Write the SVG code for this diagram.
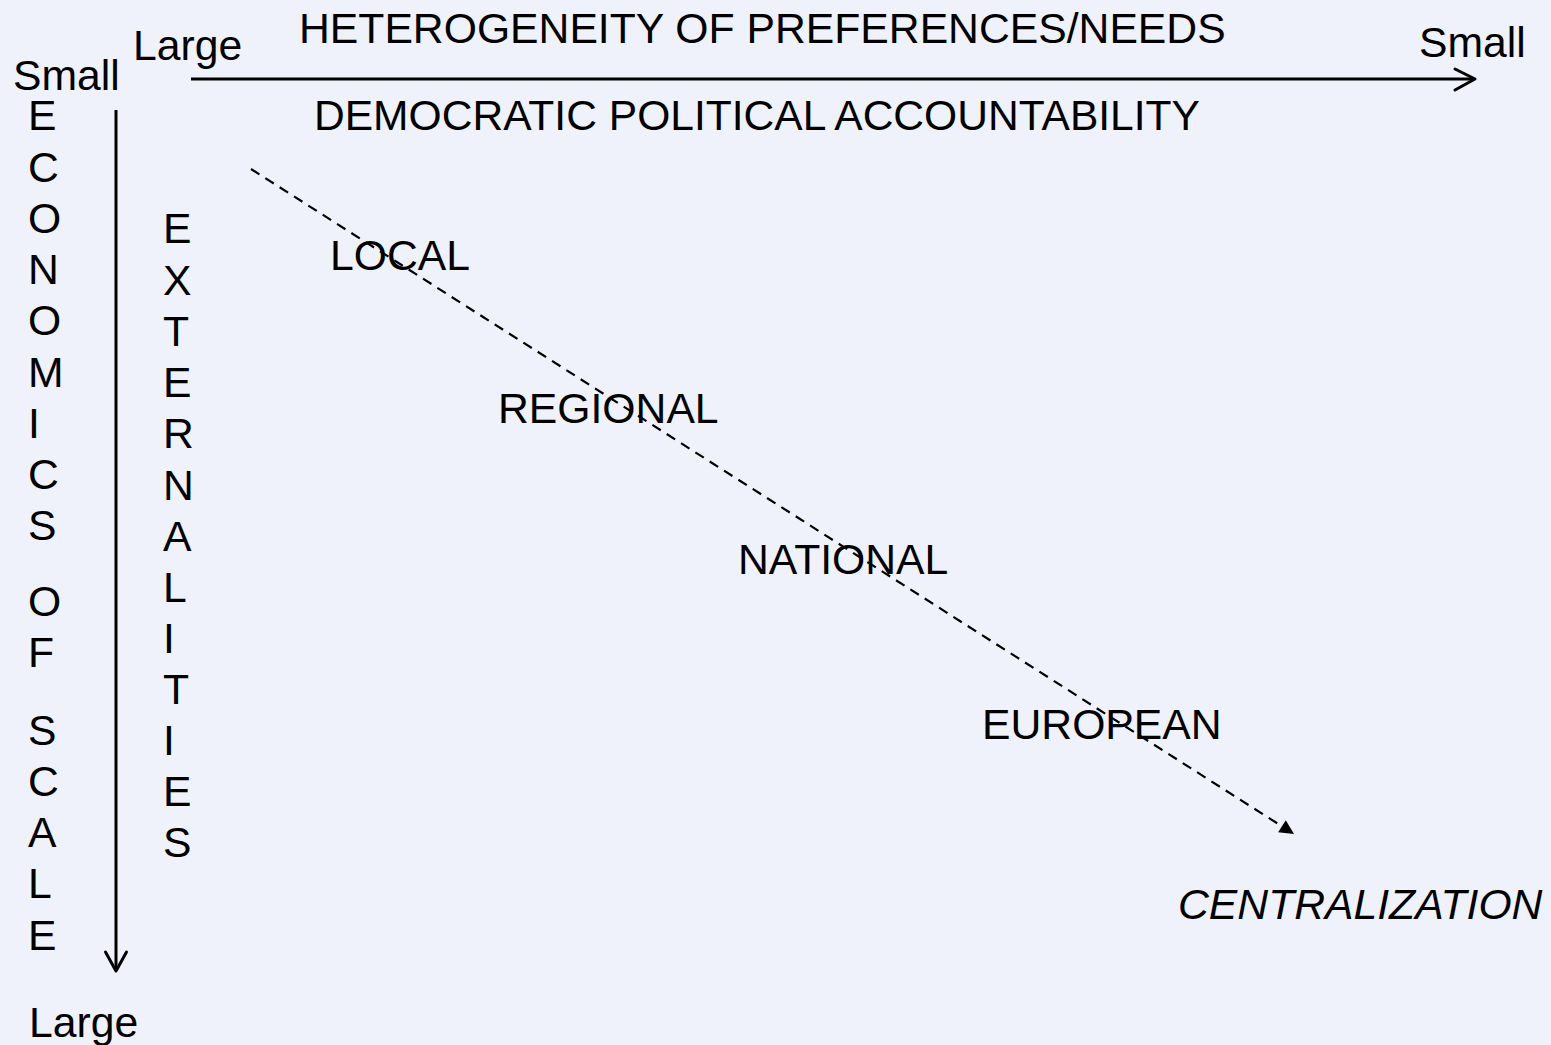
<svg xmlns="http://www.w3.org/2000/svg" width="1551" height="1045" viewBox="0 0 1551 1045">
<style>
text{font-family:"Liberation Sans",Arial,sans-serif;font-size:42.7px;fill:#000}
.it{font-style:italic}
.axis{stroke:#000;stroke-width:3;fill:none}
.chev{stroke:#000;stroke-width:3;fill:none;stroke-linecap:round;stroke-linejoin:round}
.dash{stroke:#000;stroke-width:2.2;fill:none;stroke-dasharray:10 7}
</style>
<defs>
<marker id="tri" viewBox="0 0 10 10" refX="10" refY="5" markerWidth="7.5" markerHeight="6.5" markerUnits="strokeWidth" orient="auto">
<path d="M0,0 L10,5 L0,10 Z" fill="#000"/>
</marker>
</defs>
<rect width="1551" height="1045" fill="#EFF2FA"/>
<g id="connectors">
<line class="axis" x1="191" y1="79" x2="1474" y2="79"/>
<polyline class="chev" points="1455,69 1475,79 1455,90"/>
<line class="axis" x1="116" y1="110" x2="116" y2="970"/>
<polyline class="chev" points="105.5,952 116,971 126.5,952"/>
<line class="dash" x1="251" y1="169" x2="1294" y2="834" marker-end="url(#tri)"/>
</g>
<g id="axis-labels">
<text x="299" y="43">HETEROGENEITY OF PREFERENCES/NEEDS</text>
<text x="314" y="130" textLength="886" lengthAdjust="spacingAndGlyphs">DEMOCRATIC POLITICAL ACCOUNTABILITY</text>
<text x="133" y="60">Large</text>
<text x="1419" y="57">Small</text>
<text x="13" y="90">Small</text>
<text x="29" y="1037">Large</text>
</g>
<g id="economics-of-scale">
<text x="28" y="130">E</text>
<text x="28" y="182">C</text>
<text x="28" y="233">O</text>
<text x="28" y="284">N</text>
<text x="28" y="335">O</text>
<text x="28" y="387">M</text>
<text x="28" y="438">I</text>
<text x="28" y="489">C</text>
<text x="28" y="540">S</text>
<text x="28" y="616">O</text>
<text x="28" y="667">F</text>
<text x="28" y="745">S</text>
<text x="28" y="796">C</text>
<text x="28" y="847">A</text>
<text x="28" y="898">L</text>
<text x="28" y="950">E</text>
</g>
<g id="externalities">
<text x="163" y="243">E</text>
<text x="163" y="295">X</text>
<text x="163" y="346">T</text>
<text x="163" y="397">E</text>
<text x="163" y="448">R</text>
<text x="163" y="500">N</text>
<text x="163" y="551">A</text>
<text x="163" y="602">L</text>
<text x="163" y="653">I</text>
<text x="163" y="704">T</text>
<text x="163" y="755">I</text>
<text x="163" y="806">E</text>
<text x="163" y="857">S</text>
</g>
<g id="node-local"><text x="330" y="270">LOCAL</text></g>
<g id="node-regional"><text x="498" y="423">REGIONAL</text></g>
<g id="node-national"><text x="738" y="574">NATIONAL</text></g>
<g id="node-european"><text x="982" y="739">EUROPEAN</text></g>
<g id="node-centralization"><text class="it" x="1178" y="919">CENTRALIZATION</text></g>
</svg>
